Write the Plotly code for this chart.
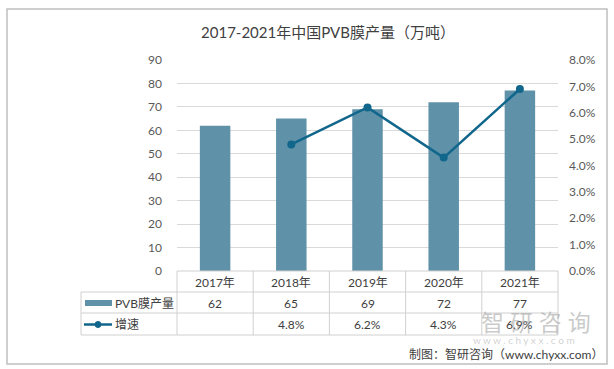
import plotly.graph_objects as go

years = ["2017年", "2018年", "2019年", "2020年", "2021年"]
output = [62, 65, 69, 72, 77]
growth = [None, 4.8, 6.2, 4.3, 6.9]  # percent
bar_name = "PVB膜产量"
line_name = "增速"
title = "2017-2021年中国PVB膜产量（万吨）"
source = "制图：智研咨询（www.chyxx.com）"

W, H = 614, 369
L, R, T, B = 177, 56, 60, 98
PW, PH = W - L - R, H - T - B

def px(x):
    return (x - L) / PW

def py(y):
    return (H - B - y) / PH

BAR_C = "#5F91A9"
LINE_C = "#11668C"
TXT = "#404040"
GRID = "#D9D9D9"
FONT = "Lato, Noto Sans CJK SC, sans-serif"

fig = go.Figure()
fig.add_trace(go.Bar(x=years, y=output, marker=dict(color=BAR_C, line=dict(width=0)),
                     name=bar_name, yaxis="y", showlegend=False))
fig.add_trace(go.Scatter(x=years, y=[g / 100 if g is not None else None for g in growth],
                         mode="lines+markers", line=dict(color=LINE_C, width=2.5),
                         marker=dict(color=LINE_C, size=8), name=line_name,
                         yaxis="y2", showlegend=False, connectgaps=False))

shapes = []
ann = []
n = len(years)
line_style = dict(color="#D0D0D0", width=1)
rows_y = [271, 292, 313, 335]
shapes.append(dict(type="line", xref="paper", yref="paper", x0=0, x1=1, y0=py(rows_y[0]), y1=py(rows_y[0]), line=line_style))
for yy in rows_y[1:]:
    shapes.append(dict(type="line", xref="paper", yref="paper", x0=px(81), x1=1, y0=py(yy), y1=py(yy), line=line_style))
for k in range(n + 1):
    shapes.append(dict(type="line", xref="paper", yref="paper", x0=k / n, x1=k / n, y0=py(271), y1=py(335), line=line_style))
shapes.append(dict(type="line", xref="paper", yref="paper", x0=px(81), x1=px(81), y0=py(292), y1=py(335), line=line_style))
shapes.append(dict(type="rect", xref="paper", yref="paper", x0=px(85), x1=px(112), y0=py(306), y1=py(300),
                   fillcolor=BAR_C, line=dict(width=0)))
shapes.append(dict(type="line", xref="paper", yref="paper", x0=px(84), x1=px(112), y0=py(324.5), y1=py(324.5),
                   line=dict(color=LINE_C, width=2.5)))
shapes.append(dict(type="circle", xref="paper", yref="paper", x0=px(95), x1=px(101), y0=py(327.5), y1=py(321.5),
                   fillcolor=LINE_C, line=dict(color=LINE_C, width=1)))
shapes.append(dict(type="rect", xref="paper", yref="paper", x0=px(7), x1=px(607), y0=py(364), y1=py(9),
                   line=dict(color="#BFBFBF", width=1.5), layer="below"))

tfont = dict(family=FONT, size=12, color=TXT)

def note(x, y, text, font, xref="paper", xanchor="center"):
    return dict(x=x, xref=xref, y=y, yref="paper", text=text, showarrow=False,
                xanchor=xanchor, yanchor="middle", font=font)

for i, yv in enumerate(years):
    ann.append(note(yv, py(282), yv, tfont, xref="x"))
    ann.append(note(yv, py(303), str(output[i]), tfont, xref="x"))
    if growth[i] is not None:
        ann.append(note(yv, py(324), f"{growth[i]:.1f}%", tfont, xref="x"))
ann.append(note(px(113), py(303), bar_name, tfont, xanchor="left"))
ann.append(note(px(113), py(324), line_name, tfont, xanchor="left"))
ann.append(note(px(536), py(322), "智 研 咨 询",
                dict(family=FONT, size=23, color="rgba(150,150,150,0.5)")))
ann.append(note(px(524), py(340), "w w w . c h y x x . c o m",
                dict(family=FONT, size=10, color="rgba(150,150,150,0.45)")))
ann.append(note(px(605), py(354), source, dict(family=FONT, size=12, color=TXT), xanchor="right"))

fig.update_layout(
    width=W, height=H, margin=dict(l=L, r=R, t=T, b=B),
    paper_bgcolor="white", plot_bgcolor="white",
    font=dict(family=FONT, size=12, color="#595959"),
    title=dict(text=title, x=328 / W, xref="container", xanchor="center", y=1 - 33 / H, yanchor="middle",
               font=dict(family=FONT, size=15, color=TXT)),
    bargap=0.6,
    xaxis=dict(showticklabels=False, showgrid=False, zeroline=False, showline=False),
    yaxis=dict(range=[0, 90], dtick=10, showgrid=True, gridcolor=GRID, zeroline=False,
               showline=False, ticklabelstandoff=14, tickfont=dict(size=12, color="#595959")),
    yaxis2=dict(range=[0, 0.08], dtick=0.01, tickformat=".1%", overlaying="y", side="right",
                showgrid=False, zeroline=False, showline=False, ticklabelstandoff=10,
                tickfont=dict(size=12, color="#595959")),
    shapes=shapes, annotations=ann,
)

fig.write_html("out.html", config={"displayModeBar": False},
               post_script="document.body.style.margin='0';")
